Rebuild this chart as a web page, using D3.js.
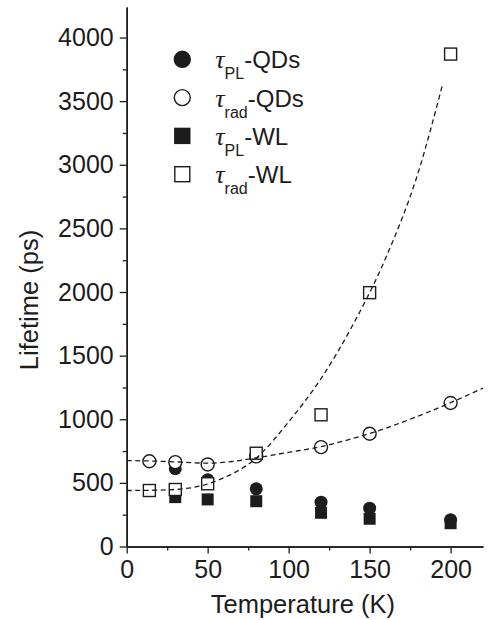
<!DOCTYPE html>
<html>
<head>
<meta charset="utf-8">
<script src="https://cdn.jsdelivr.net/npm/d3@7"></script>
<style>
  body { margin: 0; background: #fff; }
  svg { font-family: "Liberation Sans", Arial, sans-serif; }
</style>
</head>
<body>
<svg width="490" height="620"></svg>
<script>
// temperatures (K) and lifetimes (ps)
var tempPL = [30, 50, 80, 120, 150, 200];
var plQDs = [611, 524, 453, 348, 301, 210];
var plWL = [388, 370, 356, 265, 218, 183];

var tempRad = [14, 30, 50, 80, 120, 150, 200];
var radQDs = [670, 663, 645, 708, 781, 886, 1128];
var radWL = [440, 448, 493, 733, 1035, 1995, 3870];

// dashed fit curves
var fitQDsT = [0, 15, 30, 50, 65, 80, 100, 120, 140, 160, 180, 200, 220];
var fitQDsV = [675, 672, 665, 655, 668, 697, 740, 785, 850, 930, 1025, 1130, 1245];
var fitWLT = [0, 20, 40, 60, 80, 100, 120, 140, 160, 180, 195];
var fitWLV = [440, 443, 462, 540, 695, 980, 1320, 1750, 2270, 2940, 3630];

var xTicks = [0, 50, 100, 150, 200];
var yTicks = [0, 500, 1000, 1500, 2000, 2500, 3000, 3500, 4000];

var svg = d3.select("svg");
var pLeft = 126.7, pTop = 7, pRight = 483, pBottom = 546.5;
var ink = "#1c1c1c";

var x = d3.scaleLinear().domain([0, 220]).range([pLeft, pRight]);
var y = d3.scaleLinear().domain([0, 4240]).range([pBottom, pTop]);

// axes
var xAxis = svg.append("g").attr("transform", "translate(0," + pBottom + ")");
xAxis.call(d3.axisBottom(x).tickValues(d3.range(25, 220, 50)).tickSize(4).tickSizeOuter(0).tickFormat(""));
xAxis.append("g").call(d3.axisBottom(x).tickValues(xTicks).tickSize(7).tickSizeOuter(0)
  .tickPadding(6).tickFormat(d3.format("d")));

var yAxis = svg.append("g").attr("transform", "translate(" + pLeft + ",0)");
yAxis.call(d3.axisLeft(y).tickValues(d3.range(250, 4240, 500)).tickSize(4).tickSizeOuter(0).tickFormat(""));
yAxis.append("g").call(d3.axisLeft(y).tickValues(yTicks).tickSize(7).tickSizeOuter(0)
  .tickPadding(6).tickFormat(d3.format("d")));

svg.selectAll(".domain").attr("stroke", ink).attr("stroke-width", 1.5);
svg.selectAll(".tick line").attr("stroke", ink).attr("stroke-width", 1.3);
svg.selectAll(".tick text").attr("fill", ink).attr("font-size", 25)
  .attr("font-family", "Liberation Sans, Arial, sans-serif");
xAxis.selectAll(".tick text").attr("dy", "0.72em");

svg.append("text")
  .attr("x", (pLeft + pRight) / 2 - 2).attr("y", 613)
  .attr("text-anchor", "middle").attr("font-size", 25.5).attr("fill", ink)
  .text("Temperature (K)");

svg.append("text")
  .attr("transform", "translate(38,300) rotate(-90)")
  .attr("text-anchor", "middle").attr("font-size", 25.5).attr("fill", ink)
  .text("Lifetime (ps)");

// markers
var sq = 12, r = 6.5;
function zipped(ts, vs) { return ts.map(function(t, i) { return {t: t, v: vs[i]}; }); }

svg.append("g").selectAll("circle").data(zipped(tempPL, plQDs)).enter().append("circle")
  .attr("cx", function(d) { return x(d.t); }).attr("cy", function(d) { return y(d.v); })
  .attr("r", r).attr("fill", ink);

svg.append("g").selectAll("rect").data(zipped(tempPL, plWL)).enter().append("rect")
  .attr("x", function(d) { return x(d.t) - sq / 2; }).attr("y", function(d) { return y(d.v) - sq / 2; })
  .attr("width", sq).attr("height", sq).attr("fill", ink);

svg.append("g").selectAll("circle").data(zipped(tempRad, radQDs)).enter().append("circle")
  .attr("cx", function(d) { return x(d.t); }).attr("cy", function(d) { return y(d.v); })
  .attr("r", r).attr("fill", "#fff").attr("stroke", ink).attr("stroke-width", 1.4);

svg.append("g").selectAll("rect").data(zipped(tempRad, radWL)).enter().append("rect")
  .attr("x", function(d) { return x(d.t) - sq / 2; }).attr("y", function(d) { return y(d.v) - sq / 2; })
  .attr("width", sq).attr("height", sq).attr("fill", "#fff").attr("stroke", ink).attr("stroke-width", 1.4);

// fit curves
var line = d3.line()
  .x(function(d) { return x(d.t); })
  .y(function(d) { return y(d.v); })
  .curve(d3.curveMonotoneX);

[zipped(fitQDsT, fitQDsV), zipped(fitWLT, fitWLV)].forEach(function(c) {
  svg.append("path").datum(c).attr("d", line)
    .attr("fill", "none").attr("stroke", ink).attr("stroke-width", 1.3)
    .attr("stroke-dasharray", "5,3.5");
});

// legend
var legend = [
  {sym: "circle", fill: ink, sub: "PL", tail: "-QDs"},
  {sym: "circle", fill: "#fff", sub: "rad", tail: "-QDs"},
  {sym: "square", fill: ink, sub: "PL", tail: "-WL"},
  {sym: "square", fill: "#fff", sub: "rad", tail: "-WL"}
];

var lg = svg.append("g").selectAll("g").data(legend).enter().append("g")
  .attr("transform", function(d, i) { return "translate(182.3," + (59.3 + i * 38.3) + ")"; });

lg.filter(function(d) { return d.sym == "circle"; }).append("circle")
  .attr("r", 8).attr("fill", function(d) { return d.fill; })
  .attr("stroke", ink).attr("stroke-width", 1.4);
lg.filter(function(d) { return d.sym == "square"; }).append("rect")
  .attr("x", -7.5).attr("y", -7.5).attr("width", 15).attr("height", 15)
  .attr("fill", function(d) { return d.fill; })
  .attr("stroke", ink).attr("stroke-width", 1.4);

var lt = lg.append("text").attr("x", 33).attr("y", 9).attr("fill", ink).attr("font-size", 24);
lt.append("tspan").attr("font-family", "Liberation Serif, serif").attr("font-style", "italic")
  .attr("font-size", 26).text("\u03c4");
lt.append("tspan").attr("font-size", 16).attr("dy", 11).text(function(d) { return d.sub; });
lt.append("tspan").attr("dy", -11).text(function(d) { return d.tail; });
</script>
</body>
</html>
